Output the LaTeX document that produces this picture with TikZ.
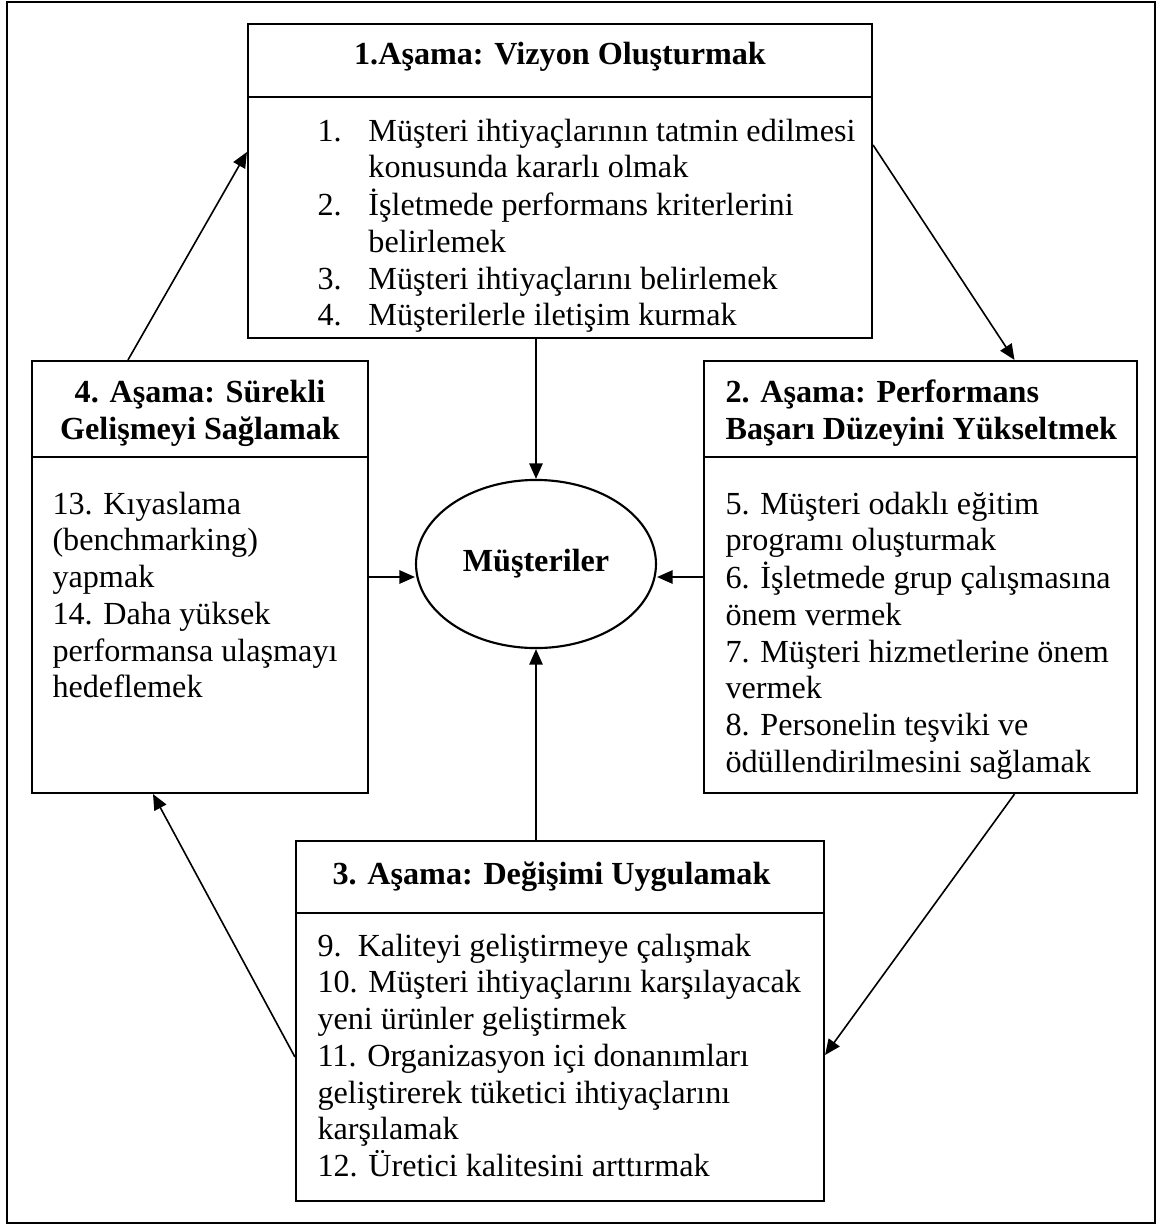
\documentclass[tikz,border=0pt]{standalone}
\usepackage{fontspec}
\setmainfont{Liberation Serif}
\usetikzlibrary{arrows.meta,calc,fit,shapes.geometric}
\tikzset{
  box/.style={draw, line width=0.8pt, inner sep=0pt, rectangle},
  txt/.style={inner sep=0pt, font=\fontsize{12}{13.7}\selectfont},
  btxt/.style={inner sep=0pt, font=\fontsize{12}{13.8}\selectfont\bfseries},
  arr/.style={line width=0.6pt, -{Triangle[length=5.8pt,width=5pt]}},
  sep/.style={line width=0.8pt}
}
\begin{document}
\begin{tikzpicture}[x=0.373pt,y=-0.373pt]
\useasboundingbox (0,0) rectangle (1161,1225);
\draw[line width=0.9pt] (7,2) rectangle (1155,1223);

% boxes
\node[box, fit={(248,24) (872,338)}] (top) {};
\node[box, fit={(32,361) (368,793)}] (left) {};
\node[box, fit={(704,361) (1137,793)}] (right) {};
\node[box, fit={(296,841) (824,1201)}] (bottom) {};
\node[draw, line width=0.8pt, ellipse, inner sep=0pt, minimum width=89.5pt, minimum height=62.7pt,
      font=\fontsize{12}{13.8}\selectfont\bfseries] (cust) at (536,564) {Müşteriler};

% dividers
\draw[sep] (top.west |- 0,97) -- (top.east |- 0,97);
\draw[sep] (left.west |- 0,457) -- (left.east |- 0,457);
\draw[sep] (right.west |- 0,457) -- (right.east |- 0,457);
\draw[sep] (bottom.west |- 0,913) -- (bottom.east |- 0,913);

% titles
\node[btxt, anchor=base] (t1) at (560,64) {1.Aşama: Vizyon Oluşturmak};
\node[btxt, anchor=north] (t4) at (200,376) {\begin{tabular}{@{}c@{}}4. Aşama: Sürekli\\Gelişmeyi Sağlamak\end{tabular}};
\node[btxt, anchor=north west] (t2) at (725,376) {\begin{tabular}{@{}l@{}}2. Aşama: Performans\\Başarı Düzeyini Yükseltmek\end{tabular}};
\node[btxt, anchor=base west] (t3) at (332,884) {3. Aşama: Değişimi Uygulamak};

% bodies
\node[txt, anchor=north west] (b1) at (317,115) {\begin{tabular}{@{}p{19pt}@{}l@{}}
1.&Müşteri ihtiyaçlarının tatmin edilmesi\\
&konusunda kararlı olmak\\
2.&İşletmede performans kriterlerini\\
&belirlemek\\
3.&Müşteri ihtiyaçlarını belirlemek\\
4.&Müşterilerle iletişim kurmak
\end{tabular}};

\node[txt, anchor=north west] (b4) at (52,488) {\begin{tabular}{@{}l@{}}
13. Kıyaslama\\
(benchmarking)\\
yapmak\\
14. Daha yüksek\\
performansa ulaşmayı\\
hedeflemek
\end{tabular}};

\node[txt, anchor=north west] (b2) at (725,488) {\begin{tabular}{@{}l@{}}
5. Müşteri odaklı eğitim\\
programı oluşturmak\\
6. İşletmede grup çalışmasına\\
önem vermek\\
7. Müşteri hizmetlerine önem\\
vermek\\
8. Personelin teşviki ve\\
ödüllendirilmesini sağlamak
\end{tabular}};

\node[txt, anchor=north west] (b3) at (317,930) {\begin{tabular}{@{}l@{}}
9.\ \ Kaliteyi geliştirmeye çalışmak\\
10. Müşteri ihtiyaçlarını karşılayacak\\
yeni ürünler geliştirmek\\
11. Organizasyon içi donanımları\\
geliştirerek tüketici ihtiyaçlarını\\
karşılamak\\
12. Üretici kalitesini arttırmak
\end{tabular}};

% connectors to the centre
\draw[arr] (cust.north |- top.south) -- (cust.north);
\draw[arr] (left.east) -- (cust.west |- left.east);
\draw[arr] (right.west) -- (cust.east |- right.west);
\draw[arr] (cust.south |- bottom.north) -- (cust.south);

% cycle connectors
\draw[arr] ($(top.east)+(0,-36)$) -- ($(right.north)+(94,0)$);
\draw[arr] ($(right.south)+(94,0)$) -- ($(bottom.east)+(0,34)$);
\draw[arr] ($(bottom.west)+(0,36)$) -- ($(left.south)+(-47,0)$);
\draw[arr] ($(left.north)+(-72,0)$) -- ($(top.west)+(0,-29)$);
\end{tikzpicture}
\end{document}
